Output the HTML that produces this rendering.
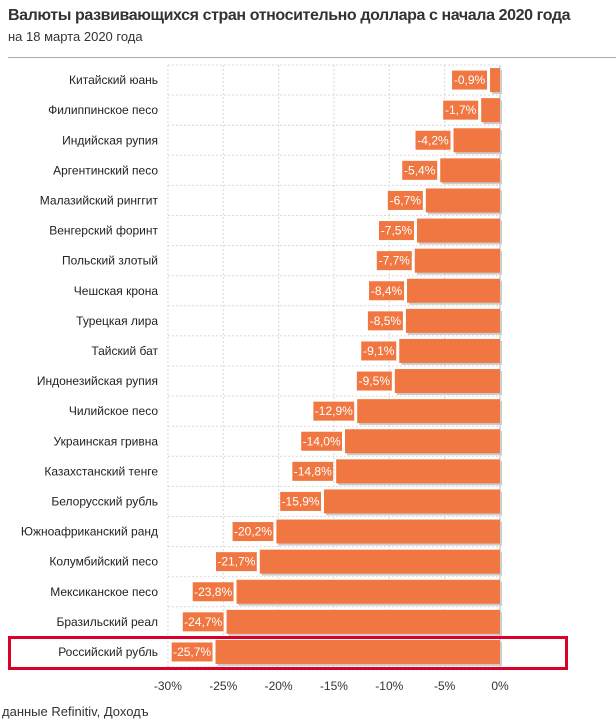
<!DOCTYPE html>
<html><head><meta charset="utf-8"><style>
body{margin:0;width:616px;height:727px;background:#fff;font-family:"Liberation Sans",sans-serif;position:relative;overflow:hidden}
.t{position:absolute;left:8px;top:7px;font-size:16px;font-weight:bold;color:#333;letter-spacing:-0.4px;white-space:nowrap}
.s{position:absolute;left:8px;top:29px;font-size:13px;color:#333}
.hr{position:absolute;left:8px;top:57px;width:608px;height:1px;background:#aaa}
.f{position:absolute;left:2px;top:704px;font-size:13px;color:#333}
svg{position:absolute;left:0;top:0}
</style></head><body>
<div class="t">Валюты развивающихся стран относительно доллара с начала 2020 года</div>
<div class="s">на 18 марта 2020 года</div>
<div class="hr"></div>
<svg id="c" width="616" height="727"></svg>
<div class="f">данные Refinitiv, Доходъ</div>
<script>
const categories=["Китайский юань","Филиппинское песо","Индийская рупия","Аргентинский песо","Малазийский ринггит","Венгерский форинт","Польский злотый","Чешская крона","Турецкая лира","Тайский бат","Индонезийская рупия","Чилийское песо","Украинская гривна","Казахстанский тенге","Белорусский рубль","Южноафриканский ранд","Колумбийский песо","Мексиканское песо","Бразильский реал","Российский рубль"];
const values=[-0.9,-1.7,-4.2,-5.4,-6.7,-7.5,-7.7,-8.4,-8.5,-9.1,-9.5,-12.9,-14.0,-14.8,-15.9,-20.2,-21.7,-23.8,-24.7,-25.7];
const ticks=[-30,-25,-20,-15,-10,-5,0];
const NS="http://www.w3.org/2000/svg",svg=document.getElementById('c');
const x=v=>500+v*11.07, top0=65, pitch=30.1, y=i=>top0+i*pitch;
function mk(t,a){const e=document.createElementNS(NS,t);for(const k in a)e.setAttribute(k,a[k]);svg.appendChild(e);return e;}
for(const t of ticks){const l=mk('line',{x1:x(t),x2:x(t),y1:top0,y2:top0+categories.length*pitch,stroke:'#d8d8d8','stroke-dasharray':'2,2'});

const tx=mk('text',{x:x(t),y:690,'text-anchor':'middle','font-size':'12',fill:'#333'});tx.textContent=t+'%';
}
for(let i=0;i<=categories.length;i++){const l=mk('line',{x1:x(-30),x2:x(0),y1:y(i),y2:y(i),stroke:'#d8d8d8','stroke-dasharray':'2,2'});
}
const ax=mk('line',{x1:x(0),x2:x(0),y1:top0,y2:top0+categories.length*pitch,stroke:'#bbb'});

categories.forEach((c,i)=>{const cy=y(i)+pitch/2;
const lb=mk('text',{x:158,y:cy+4,'text-anchor':'end','font-size':'12',fill:'#222'});lb.textContent=c;

const sh=mk('rect',{x:x(values[i])+2,y:cy-10,width:x(0)-x(values[i]),height:24,fill:'#ccc'});

const b=mk('rect',{x:x(values[i]),y:cy-12,width:x(0)-x(values[i]),height:24,fill:'#f07741'});

const txt=values[i].toFixed(1).replace('.',',')+'%';const w=txt.length*5.8+6;
const bx=mk('rect',{x:x(values[i])-3-w,y:cy-9.5,width:w,height:19,fill:'#f07741'});

const vt=mk('text',{x:x(values[i])-3-w/2,y:cy+4,'text-anchor':'middle','font-size':'12',fill:'#fff'});vt.textContent=txt;
});
const hl=mk('rect',{x:9.5,y:637.5,width:557,height:31,fill:'none',stroke:'#d9002a','stroke-width':'3'});

</script>
</body></html>
